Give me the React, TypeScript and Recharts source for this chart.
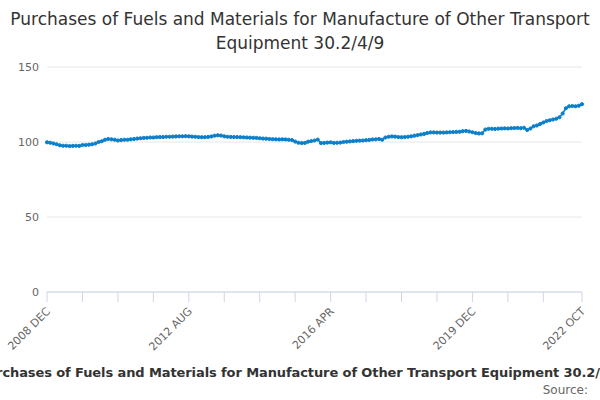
import { LineChart, Line, XAxis, YAxis, CartesianGrid } from "recharts";

const LINE_COLOR = "#0a7fca";
const AXIS_TEXT = "#666666";
const FONT = "'DejaVu Sans', sans-serif";

// monthly index values, 2008 DEC .. 2022 OCT
const values: number[] = [
  99.8,
  99.5, 99, 98.5, 97.8, 97.5, 97.5, 97.3, 97.4, 97.5, 97.4, 98, 98,
  98.2, 98.5, 99, 100, 100.5, 101.5, 102, 101.8, 101.5, 101, 101.3, 101.5,
  101.5, 101.8, 102, 102.3, 102.5, 102.7, 102.8, 103, 103, 103.2, 103.3, 103.3,
  103.5, 103.5, 103.6, 103.7, 103.8, 103.8, 103.9, 103.8, 103.6, 103.5, 103.3, 103.2,
  103.2, 103.4, 103.7, 104.2, 104.5, 104.3, 103.8, 103.5, 103.4, 103.3, 103.3, 103.2,
  103.1, 103, 102.9, 102.8, 102.7, 102.5, 102.3, 102.2, 102, 101.9, 101.8, 101.7,
  101.8, 101.7, 101.5, 101.3, 100.3, 99.5, 99.3, 99.4, 100.2, 100.6, 101, 101.6,
  99.3, 99.4, 99.6, 99.8, 99.4, 99.5, 99.6, 100, 100.2, 100.4, 100.6, 100.8,
  100.9, 101, 101.2, 101.4, 101.7, 101.8, 102, 101.5, 103, 103.5, 103.7, 103.6,
  103.3, 103.2, 103.3, 103.5, 103.8, 104.2, 104.6, 105, 105.4, 106, 106.4, 106.4,
  106.3, 106.3, 106.3, 106.4, 106.5, 106.6, 106.7, 106.8, 107.2, 107.4, 107, 106.5,
  106, 105.7, 105.8, 108.3, 108.8, 108.8, 108.7, 108.9, 109, 109.1, 109, 109.2,
  109.3, 109.4, 109.2, 109.5, 108, 109, 110.5, 111, 112, 113, 114, 114.5,
  115, 115.5, 116.5, 119, 122.5, 123.8, 124, 123.8, 124.2, 125.2,
];

const labelIndex = [0, 44, 88, 132, 166];
const labelText = ["2008 DEC", "2012 AUG", "2016 APR", "2019 DEC", "2022 OCT"];
const tickIndex = [0, 11, 22, 33, 44, 55, 66, 77, 88, 99, 110, 121, 132, 143, 154, 166];
const yTicks = [0, 50, 100, 150];

const data = values.map((v, i) => ({ idx: i, value: v }));

function XTick({ x, y, payload }: any) {
  const k = labelIndex.indexOf(payload.value);
  if (k < 0) return null;
  return (
    <text x={x + 4} y={y + 8} transform={`rotate(-45 ${x + 4} ${y + 8})`} textAnchor="end" fontSize={11} fill={AXIS_TEXT} fontFamily={FONT}>
      {labelText[k]}
    </text>
  );
}

export default function App() {
  return (
    <div style={{ position: "absolute", left: 0, top: 0, width: 600, height: 400, background: "#fff", fontFamily: FONT, overflow: "hidden" }}>
      <div style={{ position: "absolute", top: 7, left: 0, width: 600, textAlign: "center", fontSize: 17, lineHeight: "24px", color: "#333" }}>
        Purchases of Fuels and Materials for Manufacture of Other Transport Equipment 30.2/4/9
      </div>
      <LineChart width={600} height={400} data={data} margin={{ top: 67, right: 18, bottom: 48, left: 0 }}>
        <CartesianGrid vertical={false} stroke="#e6e6e6" />
        <XAxis
          dataKey="idx"
          type="number"
          domain={[0, 166]}
          ticks={tickIndex}
          interval={0}
          tick={<XTick />}
          height={60}
          stroke="#ccd6eb"
          tickSize={10}
        />
        <YAxis domain={[0, 150]} ticks={yTicks} width={47} axisLine={false} tickLine={false} tick={{ fontSize: 11, fill: AXIS_TEXT, fontFamily: FONT }} />
        <Line
          dataKey="value"
          stroke={LINE_COLOR}
          strokeWidth={1.5}
          dot={{ r: 1.6, fill: LINE_COLOR, stroke: LINE_COLOR, strokeWidth: 1 }}
          isAnimationActive={false}
        />
      </LineChart>
      <div style={{ position: "absolute", top: 365, left: -100, width: 800, textAlign: "center", fontSize: 13, fontWeight: 600, color: "#333", whiteSpace: "nowrap", letterSpacing: "-0.1px" }}>
        Purchases of Fuels and Materials for Manufacture of Other Transport Equipment 30.2/4/9
      </div>
      <div style={{ position: "absolute", top: 383, right: 12, fontSize: 12, color: "#666" }}>Source:</div>
    </div>
  );
}
